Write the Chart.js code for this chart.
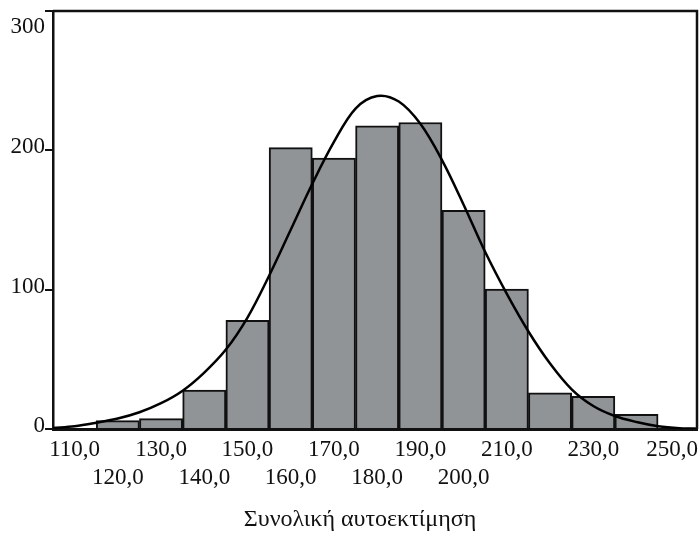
<!DOCTYPE html>
<html lang="el">
<head>
    <meta charset="UTF-8">
    <title>Συνολική αυτοεκτίμηση</title>
    <style>
        body {
            margin: 0;
            padding: 0;
            background: #ffffff;
        }
        .wrap {
            width: 700px;
            height: 533px;
        }
    </style>
</head>
<body>
    <div class="wrap">
        <canvas id="hist" width="700" height="533"></canvas>
    </div>

    <script src="https://cdn.jsdelivr.net/npm/chart.js"></script>
    <script>
        // histogram bins (centre of each 10-point bin) and their counts
        const binCenters = [120, 130, 140, 150, 160, 170, 180, 190, 200, 210, 220, 230, 240];
        const binCounts = [6, 7.5, 28, 78, 202, 194.5, 217.5, 220, 157, 100.5, 26, 23.5, 10.5];

        // normal curve, every 5 points
        const curveX = [105, 110, 115, 120, 125, 130, 135, 140, 145, 150, 155, 160, 165, 170, 175, 180,
                        185, 190, 195, 200, 205, 210, 215, 220, 225, 230, 235, 240, 245, 250, 255];
        const curveY = [0.7, 2, 4.5, 7.5, 12, 18.5, 27.5, 40.5, 57, 80, 110, 143, 176, 206, 230, 239,
                        235, 219, 193, 161, 127, 97, 70, 47, 28.5, 16.5, 9.3, 5, 2, 0.6, 0.2];

        // x tick values; the labels sit on two staggered rows
        const xTickValues = [110, 120, 130, 140, 150, 160, 170, 180, 190, 200, 210, 220, 230, 240, 250];
        const xRowOne = [110, 130, 150, 170, 190, 210, 230, 250];
        const xRowTwo = [120, 140, 160, 180, 200];
        const yTickValues = [0, 100, 200, 300];
        const xTitle = 'Συνολική αυτοεκτίμηση';

        const serif = 'Liberation Serif';
        const ink = '#111111';

        function fmt(v) {
            return v.toFixed(1).replace('.', ',');
        }

        // top and right edges of the frame, tick labels, axis title
        const framePlugin = {
            id: 'frame',
            afterDraw(chart) {
                const ctx = chart.ctx;
                const a = chart.chartArea;
                const x = chart.scales.x;
                const y = chart.scales.y;
                ctx.save();
                ctx.strokeStyle = ink;
                ctx.lineWidth = 2.5;
                ctx.beginPath();
                ctx.moveTo(a.left, a.top);
                ctx.lineTo(a.right, a.top);
                ctx.lineTo(a.right, a.bottom);
                ctx.stroke();

                ctx.fillStyle = ink;
                ctx.font = '23px "' + serif + '"';
                ctx.textBaseline = 'middle';

                ctx.textAlign = 'right';
                yTickValues.forEach(v => {
                    // keep the top label inside the canvas
                    const py = Math.max(y.getPixelForValue(v) - 3, a.top + 16);
                    ctx.fillText(String(v), a.left - 8, py);
                });

                ctx.textAlign = 'center';
                const drawRow = (values, py) => {
                    values.forEach(v => {
                        const txt = fmt(v);
                        const half = ctx.measureText(txt).width / 2;
                        const px = Math.min(x.getPixelForValue(v), chart.width - half - 2);
                        ctx.fillText(txt, px, py);
                    });
                };
                drawRow(xRowOne, a.bottom + 21);
                drawRow(xRowTwo, a.bottom + 49);

                ctx.font = '24px "' + serif + '"';
                ctx.fillText(xTitle, 360, 520);
                ctx.restore();
            }
        };

        const ctx = document.getElementById('hist').getContext('2d');
        new Chart(ctx, {
            data: {
                datasets: [
                    {
                        type: 'line',
                        data: curveX.map((x, i) => ({ x: x, y: curveY[i] })),
                        borderColor: '#000000',
                        borderWidth: 2.5,
                        pointRadius: 0,
                        tension: 0.35,
                        fill: false,
                        order: 0
                    },
                    {
                        type: 'bar',
                        data: binCenters.map((x, i) => ({ x: x, y: binCounts[i] })),
                        backgroundColor: '#919497',
                        borderColor: ink,
                        borderWidth: 2,
                        barPercentage: 1,
                        categoryPercentage: 1,
                        order: 1
                    }
                ]
            },
            plugins: [framePlugin],
            options: {
                responsive: false,
                animation: false,
                layout: {
                    padding: { top: 11, right: 3, left: 0, bottom: 0 }
                },
                plugins: {
                    legend: { display: false },
                    tooltip: { enabled: false }
                },
                scales: {
                    x: {
                        type: 'linear',
                        offset: false,
                        min: 105,
                        max: 254,
                        afterBuildTicks: scale => {
                            scale.ticks = xTickValues.map(v => ({ value: v }));
                        },
                        afterFit: scale => {
                            scale.height = 104;
                            scale.paddingLeft = 0;
                            scale.paddingRight = 0;
                        },
                        grid: { display: false, drawTicks: false },
                        border: { display: true, width: 3, color: ink },
                        ticks: { display: false }
                    },
                    y: {
                        min: 0,
                        max: 300,
                        afterBuildTicks: scale => {
                            scale.ticks = yTickValues.map(v => ({ value: v }));
                        },
                        afterFit: scale => {
                            scale.width = 53;
                        },
                        grid: {
                            display: true,
                            drawOnChartArea: false,
                            drawTicks: true,
                            tickLength: 8,
                            color: ink,
                            lineWidth: 2
                        },
                        border: { display: true, width: 2.5, color: ink },
                        ticks: { display: false }
                    }
                }
            }
        });
    </script>
</body>
</html>
